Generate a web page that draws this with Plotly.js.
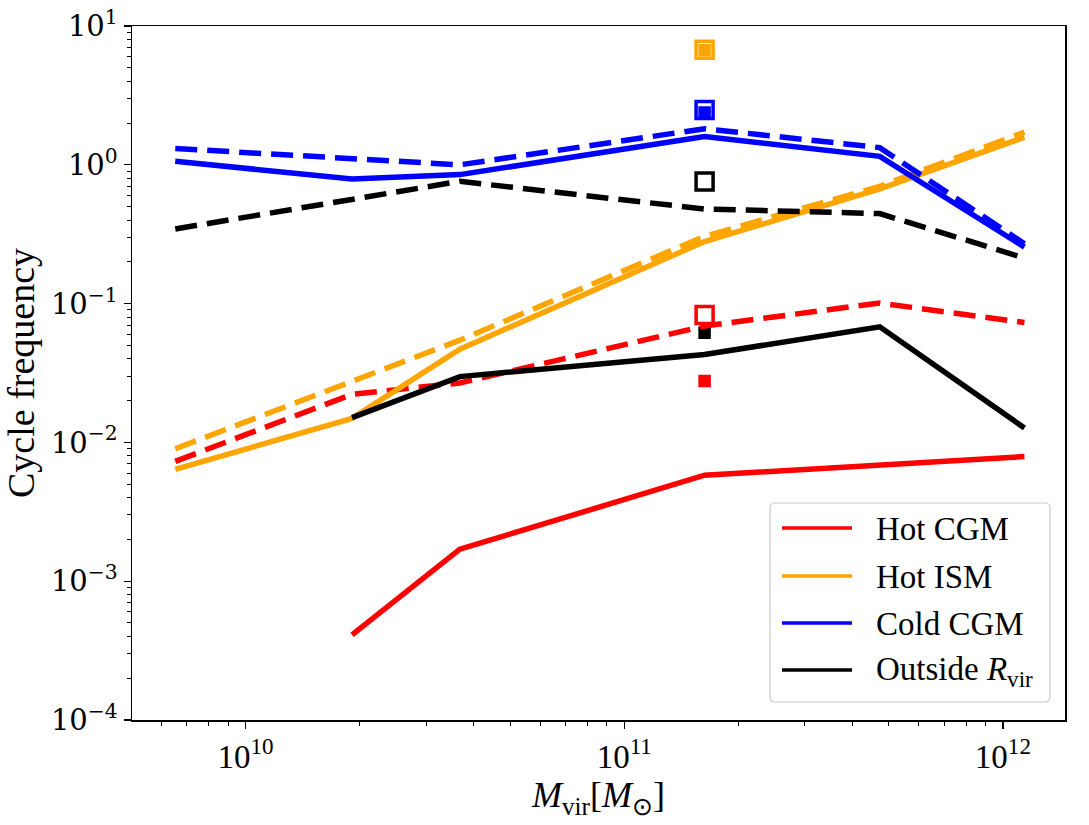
<!DOCTYPE html>
<html>
<head>
<meta charset="utf-8">
<script src="https://cdn.plot.ly/plotly-3.0.1.min.js"></script>
<style>html,body{margin:0;padding:0;background:#fff;}#chart{width:1089px;height:825px;}</style>
</head>
<body>
<div id="chart"></div>
<script>
// Halo masses (x) where the curves are sampled
const massAll = [6.52e9, 1.91e10, 3.68e10, 1.63e11, 4.73e11, 1.14e12];
const massNoFirst = [1.91e10, 3.68e10, 1.63e11, 4.73e11, 1.14e12];
const massDashSparse = [6.52e9, 3.68e10, 1.63e11, 4.73e11, 1.14e12];

// Solid lines
const hotCGM_solid = [0.00041, 0.0017, 0.0058, 0.0068, 0.0079];          // on massNoFirst
const hotISM_solid = [0.0064, 0.0149, 0.047, 0.28, 0.67, 1.58];           // on massAll
const coldCGM_solid = [1.06, 0.79, 0.85, 1.6, 1.15, 0.255];               // on massAll
const outside_solid = [0.0151, 0.0298, 0.043, 0.068, 0.0127];             // on massNoFirst

// Dashed lines
const hotCGM_dash = [0.0073, 0.0222, 0.0268, 0.069, 0.101, 0.073];        // on massAll
const hotISM_dash = [0.0090, 0.0545, 0.305, 0.70, 1.72];                  // on massDashSparse
const coldCGM_dash = [1.31, 1.0, 1.82, 1.33, 0.27];                       // on massDashSparse
const outside_dash = [0.345, 0.76, 0.48, 0.445, 0.213];                   // on massDashSparse

// Single markers at one mass
const markerMass = [1.63e11];
const openSq = {hotCGM: 0.0826, hotISM: 6.75, coldCGM: 2.48, outside: 0.757};
const filledSq = {hotCGM: 0.0277, hotISM: 6.7, coldCGM: 2.38, outside: 0.0617};

const names = ["Hot CGM", "Hot ISM", "Cold CGM", "Outside <i>R</i><sub>vir</sub>"];
const colors = ["#ff0000", "#ffa500", "#0000ff", "#000000"];

const xTickVals = [1e10, 1e11, 1e12];
const xTickText = ["10<sup>10</sup>", "10<sup>11</sup>", "10<sup>12</sup>"];
const yTickVals = [1e-4, 1e-3, 1e-2, 1e-1, 1, 10];
const yTickText = ["10<sup>\u22124</sup>", "10<sup>\u22123</sup>", "10<sup>\u22122</sup>", "10<sup>\u22121</sup>", "10<sup>0</sup>", "10<sup>1</sup>"];

function minorVals(e0, e1) {
  const v = [];
  for (let e = e0; e <= e1; e++) for (let m = 2; m <= 9; m++) v.push(m * Math.pow(10, e));
  return v;
}

const LW = 5.5;
const DASH = "22px,10px";
function line(x, y, color, dash) {
  return {x: x, y: y, type: "scatter", mode: "lines", showlegend: false, hoverinfo: "skip",
          line: {color: color, width: LW, dash: dash || "solid"}};
}
function sq(y, color, open) {
  return {x: markerMass, y: [y], type: "scatter", mode: "markers", showlegend: false,
          marker: open ? {symbol: "square-open", size: 17, color: color, line: {color: color, width: 3.5}}
                       : {symbol: "square", size: 14, color: color, line: {color: "#ffffff", width: 1.5}}};
}

const traces = [
  sq(filledSq.hotCGM, colors[0], false), sq(filledSq.hotISM, colors[1], false),
  sq(filledSq.coldCGM, colors[2], false), sq(filledSq.outside, colors[3], false),
  sq(openSq.hotCGM, colors[0], true), sq(openSq.hotISM, colors[1], true),
  sq(openSq.coldCGM, colors[2], true), sq(openSq.outside, colors[3], true),
  line(massNoFirst, hotCGM_solid, colors[0]),
  line(massAll, hotCGM_dash, colors[0], DASH),
  line(massAll, hotISM_solid, colors[1]),
  line(massDashSparse, hotISM_dash, colors[1], DASH),
  line(massAll, coldCGM_solid, colors[2]),
  line(massDashSparse, coldCGM_dash, colors[2], DASH),
  line(massNoFirst, outside_solid, colors[3]),
  line(massDashSparse, outside_dash, colors[3], DASH)
];

// ---- layout geometry (pixels) ----
const M = {l: 132, r: 24, t: 26, b: 105};
const PW = 1089 - M.l - M.r, PH = 825 - M.t - M.b;
const px = v => (v - M.l) / PW;
const py = v => (825 - M.b - v) / PH;

// manual legend box (rounded) + entries
const box = {x0: 770, x1: 1050, y0: 503, y1: 702, r: 5};
function roundedRect(b) {
  const X = v => px(v).toFixed(5), Y = v => py(v).toFixed(5);
  return `M${X(b.x0 + b.r)},${Y(b.y0)} L${X(b.x1 - b.r)},${Y(b.y0)} Q${X(b.x1)},${Y(b.y0)} ${X(b.x1)},${Y(b.y0 + b.r)} ` +
         `L${X(b.x1)},${Y(b.y1 - b.r)} Q${X(b.x1)},${Y(b.y1)} ${X(b.x1 - b.r)},${Y(b.y1)} ` +
         `L${X(b.x0 + b.r)},${Y(b.y1)} Q${X(b.x0)},${Y(b.y1)} ${X(b.x0)},${Y(b.y1 - b.r)} ` +
         `L${X(b.x0)},${Y(b.y0 + b.r)} Q${X(b.x0)},${Y(b.y0)} ${X(b.x0 + b.r)},${Y(b.y0)} Z`;
}
const rowY = [528, 576, 623, 670];
const shapes = [{type: "path", xref: "paper", yref: "paper", path: roundedRect(box),
                 fillcolor: "rgba(255,255,255,0.8)", line: {color: "#cccccc", width: 1.2}}];
const annotations = [];
const font = "'Liberation Serif', 'Times New Roman', serif";
const yFont = "'DejaVu Serif', serif";
for (let i = 0; i < 4; i++) {
  shapes.push({type: "line", xref: "paper", yref: "paper", x0: px(782), x1: px(852), y0: py(rowY[i]), y1: py(rowY[i]),
               line: {color: colors[i], width: 3.5}});
  annotations.push({xref: "paper", yref: "paper", x: px(874), y: py(rowY[i] + 1), xanchor: "left", yanchor: "middle",
                    showarrow: false, text: names[i], font: {family: font, size: 33, color: "#000"}});
}

const layout = {
  width: 1089, height: 825,
  margin: M,
  paper_bgcolor: "#fff", plot_bgcolor: "#fff",
  font: {family: font, color: "#000", size: 33},
  showlegend: false,
  shapes: shapes, annotations: annotations,
  xaxis: {type: "log", range: [9.700, 12.164],
          tickmode: "array", tickvals: xTickVals, ticktext: xTickText,
          ticks: "outside", ticklen: 7, tickwidth: 1.2, tickcolor: "#000",
          minor: {tickmode: "array", tickvals: minorVals(9, 12), ticks: "outside", ticklen: 4, tickwidth: 1, tickcolor: "#000"},
          showline: true, mirror: true, linecolor: "#000", linewidth: 1.5,
          showgrid: false, zeroline: false,
          tickfont: {family: font, size: 33},
          title: {text: "<i>M</i><sub>vir</sub>[<i>M</i><sub>\u2299</sub>]", font: {family: font, size: 36}, standoff: 4}},
  yaxis: {type: "log", range: [-4, 1],
          tickmode: "array", tickvals: yTickVals, ticktext: yTickText,
          ticks: "outside", ticklen: 7, tickwidth: 1.2, tickcolor: "#000",
          minor: {tickmode: "array", tickvals: minorVals(-4, 0), ticks: "outside", ticklen: 4, tickwidth: 1, tickcolor: "#000"},
          showline: true, mirror: true, linecolor: "#000", linewidth: 1.5,
          showgrid: false, zeroline: false,
          tickfont: {family: yFont, size: 29},
          title: {text: "Cycle frequency", font: {family: font, size: 38}, standoff: 10}}
};

Plotly.newPlot("chart", traces, layout, {staticPlot: true, displayModeBar: false});
</script>
</body>
</html>
